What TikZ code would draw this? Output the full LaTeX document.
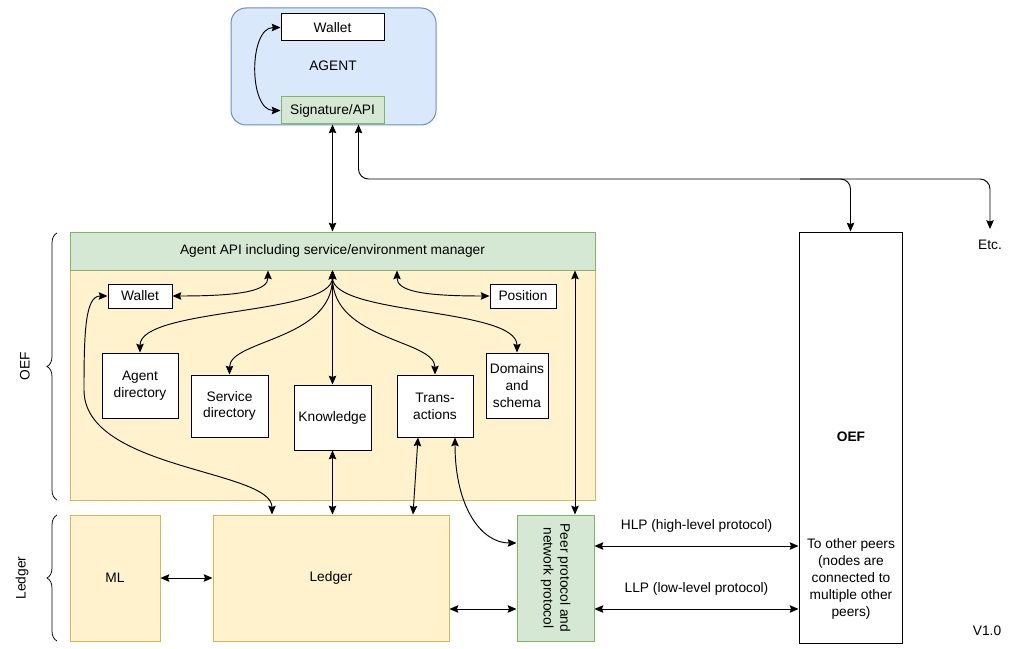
\documentclass[tikz,border=0pt]{standalone}
\usepackage{fontspec}
\setmainfont{Liberation Sans}
\usetikzlibrary{arrows.meta,decorations.pathreplacing}
\definecolor{agentblue}{HTML}{DAE8FC}
\definecolor{agentline}{HTML}{6C8EBF}
\definecolor{apigreen}{HTML}{D5E8D4}
\definecolor{apiline}{HTML}{82B366}
\definecolor{oefyellow}{HTML}{FFF2CC}
\definecolor{oefline}{HTML}{D6B656}
\begin{document}
\fontsize{11}{13.5}\selectfont
\begin{tikzpicture}[x=0.8pt,y=-0.8pt,
  box/.style={draw=black,fill=white,align=center,inner sep=1pt,line width=0.8pt},
  greenbox/.style={draw=apiline,fill=apigreen,align=center,line width=0.8pt},
  yellowbox/.style={draw=oefline,fill=oefyellow,align=center,line width=0.8pt},
  dbl/.style={{Stealth[length=7pt,width=6pt,inset=1pt]}-{Stealth[length=7pt,width=6pt,inset=1pt]},line width=0.75pt},
  sgl/.style={-{Stealth[length=7pt,width=6pt,inset=1pt]},line width=0.75pt},
  bracket/.style={decorate,decoration={brace,amplitude=8pt},line width=0.6pt}]
\useasboundingbox (0,0) rectangle (1024,649);

% the agent
\node[draw=agentline,fill=agentblue,rounded corners=12pt,line width=0.8pt,
  minimum width=164pt,minimum height=93.6pt] (agent) at (333.5,66.5) {};
\node[box,minimum width=82.4pt,minimum height=21.6pt] (awallet) at (332.5,27.5) {Wallet};
\node (agenttxt) at (333,66) {AGENT};
\node[greenbox,minimum width=82.4pt,minimum height=21.6pt] (sig) at (332.5,110.5) {Signature/API};

% the OEF node
\node[yellowbox,minimum width=420pt,minimum height=184pt] (oefarea) at (332.5,385) {};
\node[greenbox,minimum width=420pt,minimum height=30.4pt] (api) at (332.5,251)
  {Agent API including service/environment manager};
\node[box,minimum width=51.2pt,minimum height=19.2pt] (owallet) at (140,296) {Wallet};
\node[box,minimum width=52.8pt,minimum height=19.2pt] (position) at (523,296) {Position};
\node[box,minimum width=60.8pt,minimum height=52pt] (agentdir) at (140,385.5) {Agent\\directory};
\node[box,minimum width=61.6pt,minimum height=49.6pt] (servdir) at (229.5,406) {Service\\directory};
\node[box,minimum width=61.6pt,minimum height=52pt] (knowledge) at (332.5,417.5) {Knowledge};
\node[box,minimum width=60.8pt,minimum height=49.6pt] (trans) at (435,406) {Trans-\\actions};
\node[box,minimum width=49.6pt,minimum height=52pt] (domains) at (517,385.5) {Domains\\and\\schema};

% the ledger
\node[yellowbox,minimum width=72pt,minimum height=100.8pt] (ml) at (115,578) {ML};
\node[yellowbox,minimum width=188.8pt,minimum height=100.8pt] (ledger) at (331,578) {Ledger};
\node[greenbox,minimum width=61.6pt,minimum height=100.8pt] (peer) at (555.5,578) {};
\node[rotate=-90,align=center] (peertxt) at (peer.center) {Peer protocol and\\network protocol};

% other peers
\node[draw=black,line width=0.8pt,minimum width=82.4pt,minimum height=328.8pt] (oef) at (850.5,437.5) {};
\node[font=\bfseries] (oeftxt) at (851,437) {OEF};
\node[align=center] (peers) at (851,579) {To other peers\\(nodes are\\connected to\\multiple other\\peers)};
\coordinate (etc) at (990,229);
\node (etctxt) at (990,245) {Etc.};
\node (version) at (987,631) {V1.0};

% braces
\draw[bracket] (57,500) -- (57,233);
\draw[bracket] (57,641) -- (57,515);
\node[rotate=90] (oeflabel) at (25,366) {OEF};
\node[rotate=90] (ledgerlabel) at (22,578) {Ledger};

% connectors
\draw[dbl] (awallet.west) .. controls +(-32,0) and +(-32,0) .. (sig.west);
\draw[dbl] (sig.south) -- (api.north);
\draw[dbl,rounded corners=8pt] ([xshift=20.8pt]sig.south) |- (etc |- 0,179) -- (etc);
\coordinate (fork) at (800,179);
\draw[sgl,rounded corners=8pt] (fork) -| (oef.north);

\coordinate (hub) at (api.south);
\draw[dbl] (hub) .. controls +(0,45) and +(0,-45) .. (agentdir.north);
\draw[dbl] (hub) .. controls +(0,70) and +(0,-35) .. (servdir.north);
\draw[dbl] (hub) -- (knowledge.north);
\draw[dbl] (hub) .. controls +(0,70) and +(0,-35) .. (trans.north);
\draw[dbl] (hub) .. controls +(0,45) and +(0,-45) .. (domains.north);
\draw[dbl] (owallet.east) .. controls +(70,0) and +(0,20) .. (api.south -| 268,0);
\draw[dbl] (position.west) .. controls +(-70,0) and +(0,20) .. (api.south -| 397,0);

\draw[dbl] (owallet.west) .. controls +(-22,0) and +(0,-60) .. (84,390)
  .. controls +(0,80) and +(0,-45) .. (ledger.north -| 272,0);
\draw[dbl] (knowledge.south) -- (knowledge.south |- ledger.north);
\draw[dbl] (trans.south -| 418,0) -- (ledger.north -| 413,0);
\draw[dbl] (trans.south -| 455,0) .. controls +(0,70) and +(-35,0) .. (peer.west |- 0,543);
\draw[dbl] (api.south -| 575,0) -- (peer.north -| 575,0);

\draw[dbl] (ml.east) -- (ledger.west);
\draw[dbl] (ledger.east |- 0,609) -- (peer.west |- 0,609);
\draw[dbl] (peer.east |- 0,546) -- node[above=7pt] {HLP (high-level protocol)} (oef.west |- 0,546);
\draw[dbl] (peer.east |- 0,609) -- node[above=7pt] {LLP (low-level protocol)} (oef.west |- 0,609);

\end{tikzpicture}
\end{document}
